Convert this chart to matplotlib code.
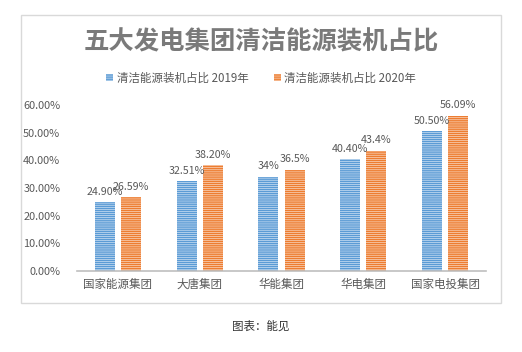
import numpy as np
import matplotlib
matplotlib.use("Agg")
import matplotlib.pyplot as plt
import matplotlib.ticker as mticker
from matplotlib.patches import Rectangle, Patch

plt.rcParams["font.family"] = ["Noto Sans CJK SC", "DejaVu Sans"]
plt.rcParams["hatch.linewidth"] = 0.4

categories = ["国家能源集团", "大唐集团", "华能集团", "华电集团", "国家电投集团"]
share_2019 = [0.2490, 0.3251, 0.34, 0.4040, 0.5050]
share_2020 = [0.2659, 0.3820, 0.365, 0.434, 0.5609]
labels_2019 = ["24.90%", "32.51%", "34%", "40.40%", "50.50%"]
labels_2020 = ["26.59%", "38.20%", "36.5%", "43.4%", "56.09%"]
series_names = ["清洁能源装机占比 2019年", "清洁能源装机占比 2020年"]

BLUE = "#5b9bd5"
ORANGE = "#ed7d31"
TXT = "#595959"
HATCH = "--------"

fig = plt.figure(figsize=(5.22, 3.52), dpi=100)
fig.patch.set_facecolor("white")

# outer chart frame
fig.patches.append(Rectangle((0.0402, 0.139), 0.9195, 0.819, transform=fig.transFigure,
                             fill=False, edgecolor="#d9d9d9", linewidth=1.0))

ax = fig.add_axes([0.1475, 0.230, 0.7835, 0.4716])
x = np.arange(len(categories))
w = 0.245
off = 0.16

bars1 = ax.bar(x - off, share_2019, w, color=BLUE, edgecolor="#eef4fb",
               linewidth=0, hatch=HATCH)
bars2 = ax.bar(x + off, share_2020, w, color=ORANGE, edgecolor="#fdf0e7",
               linewidth=0, hatch=HATCH)

for bars, labs in ((bars1, labels_2019), (bars2, labels_2020)):
    for b, lab in zip(bars, labs):
        ax.annotate(lab, (b.get_x() + b.get_width() / 2, b.get_height()),
                    xytext=(0, 4), textcoords="offset points",
                    ha="center", va="bottom", fontsize=7.7, color=TXT)

ax.set_xlim(-0.5, len(categories) - 0.5)
ax.set_ylim(0, 0.6)
ax.set_yticks(np.arange(0, 0.61, 0.1))
ax.yaxis.set_major_formatter(mticker.FuncFormatter(lambda v, p: f"{v:.2%}"))
ax.set_xticks(x)
ax.set_xticklabels(categories)
ax.tick_params(axis="both", length=0, labelsize=7.9, labelcolor=TXT)
ax.tick_params(axis="y", pad=12)
ax.tick_params(axis="x", pad=5, labelsize=8.3)
for s in ("top", "right", "left"):
    ax.spines[s].set_visible(False)
ax.spines["bottom"].set_color("#bfbfbf")
ax.spines["bottom"].set_linewidth(1.2)

fig.text(0.5, 0.88, "五大发电集团清洁能源装机占比", ha="center", va="center",
         fontsize=18.3, fontweight="bold", color="#7a7a7a")

handles = [Patch(facecolor=BLUE, edgecolor="#eef4fb", linewidth=0, hatch=HATCH),
           Patch(facecolor=ORANGE, edgecolor="#fdf0e7", linewidth=0, hatch=HATCH)]
fig.legend(handles, series_names, loc="center", bbox_to_anchor=(0.5, 0.778), ncol=2,
           frameon=False, fontsize=8.3, handlelength=0.6, handleheight=0.6,
           handletextpad=0.3, columnspacing=2.2, labelcolor=TXT)

fig.text(0.5, 0.074, "图表：能见", ha="center", va="center", fontsize=8.3, color="#333333")

fig.savefig("out.png", dpi=100)
